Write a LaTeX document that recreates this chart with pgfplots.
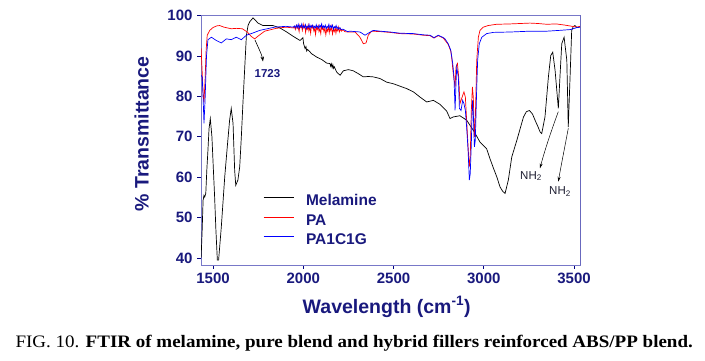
\documentclass[border=0pt]{standalone}
\usepackage{fontspec}
\setmainfont{Liberation Sans}
\newfontfamily\capfont{Liberation Serif}
\usepackage{pgfplots}
\pgfplotsset{compat=1.18}
\usetikzlibrary{arrows.meta}
\definecolor{txtnavy}{RGB}{25,25,125}
\definecolor{framelight}{RGB}{120,120,200}
\definecolor{framedark}{RGB}{0,0,128}
\definecolor{myred}{RGB}{255,0,0}
\definecolor{myblue}{RGB}{0,0,255}
\begin{document}
\begin{tikzpicture}[x=1pt,y=1pt]
\path[use as bounding box] (0,0) rectangle (705,361);
\begin{axis}[
  at={(201pt,96pt)}, anchor=south west,
  scale only axis, width=379pt, height=250pt,
  xmin=1433.5, xmax=3533, ymin=38.3, ymax=100.1,
  xtick={1500,2000,2500,3000,3500},
  ytick={40,50,60,70,80,90,100},
  xtick pos=bottom, ytick pos=left,
  tick align=outside, major tick length=4pt,
  tick style={color=framedark, line width=0.7pt},
  minor tick num=0,
  axis line style={draw=framelight, line width=0.8pt},
  /pgf/number format/assume math mode=true,
  /pgf/number format/1000 sep={},
  ticklabel style={font=\fontsize{15}{18}\selectfont\bfseries, text=txtnavy},
  yticklabel style={xshift=-1pt},
  legend cell align=left,
  legend style={at={(rel axis cs:0.1636,0.282)}, anchor=north west, draw=none, fill=none,
    inner sep=0pt, row sep=5pt,
    font=\fontsize{15.5}{18}\selectfont\bfseries, text=txtnavy,
    nodes={inner sep=0pt, text height=11pt, text depth=3.5pt}},
  legend image code/.code={\draw[#1, line width=0.9pt] (0pt,4pt) -- (30pt,4pt); \path (42pt,4pt);},
]
\addplot[black, line width=0.7pt] coordinates {
(1434,40.0) (1440,47.0) (1445,54.3) (1450,55.5) (1454,55.1) (1460,56.0) (1466,62.0) (1472,66.7) (1478,72.0) (1485,74.5) (1494,70.0) (1502,62.0) (1509,55.1) (1516,47.0) (1524,39.5) (1531,39.5) (1546,47.7) (1565,60.1) (1580,68.0) (1592,74.1) (1601,77.0) (1611,73.3) (1620,61.7) (1626,58.0) (1638,59.3) (1648,62.6) (1657,70.0) (1666,78.5) (1675,86.4) (1685,95.1) (1694,97.5) (1703,98.4) (1722,99.4) (1735,98.8) (1749,98.1) (1777,97.5) (1832,97.5) (1871,96.9) (1908,95.9) (1945,94.8) (1982,93.8) (1998,94.5) (2002,93.0) (2010,91.8) (2015,92.3) (2019,91.2) (2024,91.6) (2047,90.5) (2074,89.7) (2102,89.1) (2130,88.2) (2148,88.1) (2152,87.4) (2156,88.0) (2160,87.1) (2164,87.8) (2168,86.9) (2172,87.3) (2185,86.0) (2204,85.2) (2222,86.3) (2250,86.6) (2277,86.3) (2305,85.6) (2333,84.8) (2360,84.9) (2388,84.8) (2425,84.4) (2462,83.5) (2499,83.1) (2536,82.5) (2573,81.9) (2610,81.1) (2647,79.8) (2684,78.6) (2721,79.0) (2758,78.0) (2795,76.3) (2813,74.5) (2831,74.9) (2868,75.2) (2905,74.1) (2942,71.6) (2979,68.7) (3016,67.0) (3035,64.5) (3053,62.3) (3072,60.1) (3090,57.6) (3105,56.5) (3118,56.0) (3136,59.3) (3155,65.0) (3183,69.1) (3220,74.9) (3236,76.2) (3253,76.5) (3270,75.6) (3284,74.1) (3300,72.5) (3312,71.2) (3321,70.8) (3339,74.9) (3358,84.8) (3371,90.1) (3382,90.9) (3395,86.4) (3413,77.0) (3422,84.8) (3432,93.0) (3445,94.6) (3460,88.9) (3468,72.4) (3478,84.8) (3487,96.3) (3495,97.2) (3505,97.5) (3515,97.0) (3529,97.1)
};
\addlegendentry{Melamine}
\addplot[myred, line width=0.7pt] coordinates {
(1434,91.9) (1440,86.0) (1446,80.0) (1450,78.5) (1456,84.0) (1462,91.5) (1468,95.1) (1482,96.3) (1500,97.0) (1520,97.4) (1537,97.5) (1560,97.1) (1601,96.7) (1630,96.8) (1662,96.7) (1690,95.9) (1712,94.8) (1731,94.2) (1750,94.9) (1786,96.1) (1850,96.8) (1904,97.1)
(1945,96.9) (1951,97.3) (1956,96.5) (1962,97.5) (1966,96.8) (1971,97.2) (1977,96.0) (1981,97.6) (1986,97.0) (1990,97.4) (1995,96.3) (2000,97.8) (2004,96.9) (2009,97.5) (2013,95.8) (2018,97.2) (2023,96.6) (2027,97.6) (2031,96.2) (2036,97.0) (2041,95.6) (2045,97.4) (2050,96.9) (2054,97.3) (2059,96.1) (2064,96.8) (2068,95.3) (2073,97.1) (2078,96.5) (2083,97.4) (2087,96.0) (2092,96.7) (2097,95.5) (2101,97.3) (2106,96.6) (2110,97.0) (2115,95.9) (2120,96.9) (2125,95.2) (2130,96.6) (2134,96.1) (2139,97.2) (2144,95.7) (2148,96.8) (2153,96.2) (2158,97.3) (2162,95.4) (2167,96.5) (2172,96.0) (2177,97.0) (2181,95.6) (2186,96.7) (2191,96.2) (2196,97.1) (2200,95.9) (2206,96.6) (2212,96.1) (2220,96.5) (2230,96.0) (2245,95.9)
(2259,95.9) (2287,95.9) (2314,94.6) (2333,93.0) (2348,93.2) (2360,95.1) (2379,96.1) (2425,96.0) (2480,95.8) (2536,95.5) (2610,95.4) (2665,95.1) (2702,95.0) (2724,94.4) (2748,95.0) (2776,94.4) (2803,92.8) (2817,91.2) (2822,89.7) (2831,85.6) (2841,82.3) (2846,87.2) (2854,88.1) (2861,84.8) (2868,78.2) (2877,79.4) (2890,81.1) (2898,79.8) (2905,74.1) (2914,66.7) (2920,62.6) (2925,65.0) (2931,76.5) (2937,82.3) (2942,79.8) (2948,70.0) (2953,74.1) (2961,88.9) (2970,94.6) (2979,96.3) (2997,97.1) (3025,97.5) (3070,97.8) (3150,97.9) (3256,98.1) (3300,98.0) (3350,97.8) (3400,97.9) (3450,97.6) (3516,97.1) (3533,97.3)
};
\addlegendentry{PA}
\addplot[blue, line width=0.7pt] coordinates {
(1434,85.2) (1440,84.8) (1445,80.0) (1450,73.3) (1456,79.0) (1464,90.0) (1472,94.0) (1491,94.6) (1518,93.8) (1546,93.2) (1574,94.2) (1601,94.0) (1629,94.6) (1657,94.0) (1685,95.1) (1712,95.5) (1759,96.3) (1842,97.1) (1904,97.3)
(1945,97.1) (1951,97.4) (1956,96.9) (1962,97.6) (1967,97.0) (1972,97.8) (1977,96.8) (1982,97.5) (1987,97.1) (1992,97.9) (1997,96.9) (2002,97.4) (2007,97.0) (2012,97.7) (2017,96.7) (2022,97.3) (2027,97.0) (2032,97.8) (2037,96.8) (2042,97.5) (2047,97.1) (2052,97.6) (2057,96.9) (2062,97.3) (2067,96.9) (2072,97.7) (2077,97.0) (2082,97.4) (2087,96.8) (2092,97.6) (2097,97.1) (2102,97.9) (2107,96.9) (2112,97.4) (2117,97.0) (2122,97.6) (2127,96.7) (2132,97.3) (2137,97.0) (2142,97.8) (2147,96.8) (2152,97.5) (2157,97.0) (2162,97.6) (2167,96.6) (2172,97.2) (2177,96.9) (2182,97.5) (2187,96.7) (2192,97.1) (2197,96.6) (2203,97.0) (2210,96.5) (2220,96.6) (2232,96.3) (2245,96.0)
(2259,96.1) (2287,96.0) (2314,95.9) (2342,95.1) (2360,95.6) (2388,96.3) (2425,96.1) (2480,95.9) (2536,95.6) (2610,95.5) (2665,95.2) (2702,95.1) (2724,94.5) (2748,95.1) (2776,94.5) (2785,94.2) (2803,93.0) (2817,91.4) (2828,88.1) (2835,84.8) (2841,76.5) (2846,83.1) (2850,87.2) (2859,84.8) (2865,77.0) (2874,76.5) (2883,79.0) (2890,78.2) (2898,76.5) (2905,72.4) (2913,66.7) (2920,59.3) (2925,60.9) (2931,68.3) (2937,79.0) (2942,75.7) (2948,67.5) (2953,69.1) (2961,82.3) (2966,88.9) (2975,93.0) (2989,94.6) (3016,95.5) (3053,95.8) (3150,95.9) (3256,96.1) (3350,96.1) (3420,96.3) (3480,96.5) (3516,97.0) (3533,97.1)
};
\addlegendentry{PA1C1G}
\draw[framedark, line width=0.9pt] (rel axis cs:0,0) -- (rel axis cs:1,0) -- (rel axis cs:1,1);
\end{axis}
% axis labels
\node[rotate=90, text=txtnavy, font=\fontsize{19.5}{23}\selectfont\bfseries] at (141.7,227) {\% Transmittance};
\node[anchor=base, text=txtnavy, font=\fontsize{19.5}{23}\selectfont\bfseries] at (386.7,47.5) {Wavelength (cm\textsuperscript{-1})};
% annotations
\node[text=txtnavy, font=\fontsize{11.5}{13}\selectfont\bfseries] at (267.5,287) {1723};
\draw[black, line width=0.6pt, -{Stealth[length=5pt,width=3.5pt]}] (255,321) .. controls (258,314) and (262,306) .. (263,299.5);
\node[anchor=west, font=\fontsize{11.5}{13}\selectfont, text={rgb,255:red,30;green,30;blue,50}, inner sep=0pt] at (520,185) {NH\textsubscript{2}};
\node[anchor=west, font=\fontsize{11.5}{13}\selectfont, text={rgb,255:red,30;green,30;blue,50}, inner sep=0pt] at (549,169.3) {NH\textsubscript{2}};
\draw[black, line width=0.5pt, -{Stealth[length=5pt,width=3pt]}] (558.3,249.3) .. controls (553,235) and (545,212) .. (540,192.7);
\draw[black, line width=0.5pt, -{Stealth[length=5pt,width=3pt]}] (568.3,232.7) .. controls (565,215) and (561,195) .. (558.3,179.3);
% caption
\node[anchor=base, inner sep=0pt, xscale=1.086, transform shape, font=\capfont\fontsize{17.5}{20}\selectfont] at (354.2,13.7) {FIG. 10. \textbf{FTIR of melamine, pure blend and hybrid fillers reinforced ABS/PP blend.}};
\end{tikzpicture}
\end{document}
